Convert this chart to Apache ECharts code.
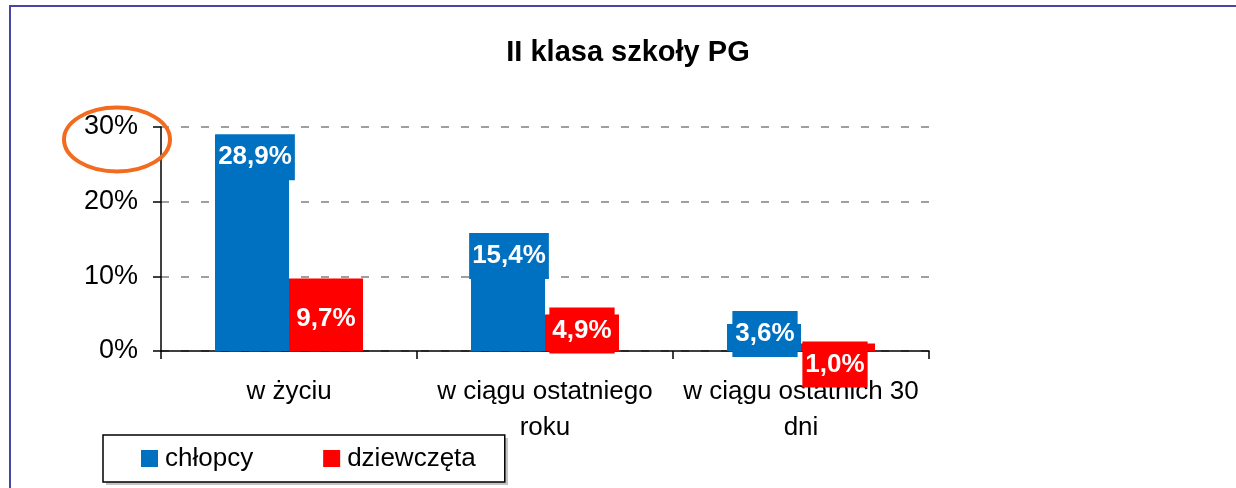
<!DOCTYPE html>
<html>
<head>
<meta charset="utf-8">
<script src="https://cdn.jsdelivr.net/npm/echarts@6/dist/echarts.min.js"></script>
<style>
  html, body { margin: 0; padding: 0; background: #fff; }
  #chart { width: 1236px; height: 488px; }
</style>
</head>
<body>
<div id="chart"></div>
<script type="text/javascript">
// dane z wykresu
var categories = ['w życiu', 'w ciągu ostatniego\nroku', 'w ciągu ostatnich 30\ndni'];
var chlopcy = [28.9, 15.4, 3.6];
var dziewczeta = [9.7, 4.9, 1.0];
var yTicks = [0, 10, 20, 30];

// przesuniecia etykiet (tak jak w oryginale, recznie poprawione)
var nudgeBlue = [[3, -1], [1, -3], [1, -13]];
var nudgeRed = [[0, 17], [0, -7], [-3, -2]];

var FONT = 'Liberation Sans, Arial, sans-serif';

function pct(v) {
    return v.toFixed(1).replace('.', ',') + '%';
}

function withLabels(values, nudge) {
    return values.map(function (v, i) {
        return { value: v, label: { offset: nudge[i] } };
    });
}

var labelStyle = {
    show: true,
    position: 'insideTop',
    distance: 0,
    color: '#fff',
    fontFamily: FONT,
    fontWeight: 'bold',
    fontSize: 26,
    lineHeight: 26,
    padding: [10, 3],
    formatter: function (p) { return pct(p.value); }
};

var myChart = echarts.init(document.getElementById('chart'));
var option = {
    animation: false,
    title: {
        text: 'II klasa szkoły PG',
        left: 623,
        textAlign: 'center',
        top: 33,
        textStyle: { fontFamily: FONT, fontWeight: 'bold', fontSize: 29, color: '#000' }
    },
    grid: { left: 161, right: 307, top: 127, bottom: 137 },
    legend: {
        data: ['chłopcy', 'dziewczęta'],
        left: 103,
        top: 435,
        orient: 'horizontal',
        icon: 'rect',
        itemWidth: 17,
        itemHeight: 17,
        itemGap: 70,
        padding: [9, 29, 9, 38],
        borderColor: '#000',
        borderWidth: 1.5,
        backgroundColor: '#fff',
        textStyle: { fontFamily: FONT, fontSize: 26, lineHeight: 29, color: '#000', padding: [0, 0, 0, 2] }
    },
    xAxis: {
        type: 'category',
        data: categories,
        axisLine: { lineStyle: { color: '#000', width: 1.5 } },
        axisTick: { show: true, length: 8, lineStyle: { color: '#000', width: 1.5 } },
        axisLabel: {
            fontFamily: FONT, fontSize: 26, color: '#000',
            lineHeight: 36, margin: 23, interval: 0
        }
    },
    yAxis: {
        type: 'value',
        min: yTicks[0],
        max: yTicks[yTicks.length - 1],
        interval: yTicks[1] - yTicks[0],
        axisLine: { show: true, lineStyle: { color: '#000', width: 1.5 } },
        axisTick: { show: true, length: 8, lineStyle: { color: '#000', width: 1.5 } },
        axisLabel: {
            fontFamily: FONT, fontSize: 27, color: '#000', margin: 23,
            padding: [4, 0, 0, 0],
            formatter: '{value}%'
        },
        splitLine: { lineStyle: { color: '#808080', type: [8, 12], width: 1.5 } }
    },
    series: [
        {
            name: 'chłopcy',
            type: 'bar',
            barWidth: 74,
            barGap: 0,
            itemStyle: { color: '#0070C0' },
            label: Object.assign({ backgroundColor: '#0070C0' }, labelStyle),
            data: withLabels(chlopcy, nudgeBlue)
        },
        {
            name: 'dziewczęta',
            type: 'bar',
            barWidth: 74,
            barGap: 0,
            itemStyle: { color: '#FF0000' },
            label: Object.assign({ backgroundColor: '#FF0000' }, labelStyle),
            data: withLabels(dziewczeta, nudgeRed)
        }
    ],
    graphic: [
        {
            type: 'rect',
            shape: { x: 10, y: 6, width: 1400, height: 700 },
            style: { fill: 'none', stroke: '#4646A8', lineWidth: 2 },
            silent: true
        },
        {
            // cien ramki legendy
            type: 'rect',
            shape: { x: 106, y: 438, width: 402, height: 47 },
            style: { fill: '#c4c4c4' },
            z: 0,
            silent: true
        },
        {
            type: 'ellipse',
            shape: { cx: 117, cy: 139.5, rx: 53, ry: 32 },
            style: { fill: 'none', stroke: '#F26B1F', lineWidth: 4 },
            z: 100,
            silent: true
        }
    ]
};
myChart.setOption(option);
</script>
</body>
</html>
